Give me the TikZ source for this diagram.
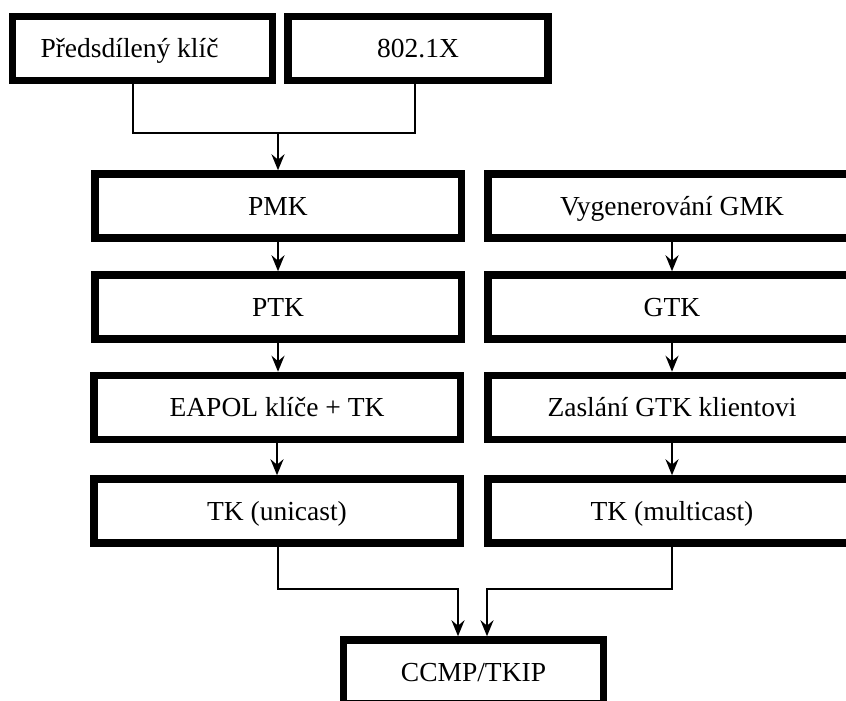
\documentclass[tikz,border=0pt]{standalone}
\usepackage{fontspec}
\setmainfont{Liberation Serif}
\usetikzlibrary{arrows.meta,calc}
\begin{document}
\begin{tikzpicture}[x=1pt,y=-1pt,
  box/.style={draw, line width=7.5pt, inner sep=0pt, minimum height=64pt,
    text height=20pt, text depth=2pt,
    font=\fontsize{27.5}{32}\selectfont},
  wideL/.style={box, minimum width=366.5pt},
  wideR/.style={box, minimum width=368.5pt},
  topbox/.style={box, minimum width=260pt},
  conn/.style={line width=2.5pt},
  arr/.style={conn, -{Stealth[length=16pt,width=13pt,inset=5.5pt]}}]
\useasboundingbox (0,0) rectangle (846,701);
% top row
\node[topbox] (psk) at (142.5,48.5) {\kern-13pt Předsdílený klíč\kern13pt};
\node[topbox] (dot) at (418,48.5) {802.1X};
% left column
\node[wideL] (pmk) at (278,206) {PMK};
\node[wideL] (ptk) at (278,307) {PTK};
\node[wideL] (eapol) at (277,407.5) {EAPOL klíče + TK};
\node[wideL] (tku) at (277,511) {TK (unicast)};
% right column
\node[wideR] (gmk) at (672,206) {Vygenerování GMK};
\node[wideR] (gtk) at (672,307) {GTK};
\node[wideR] (zas) at (672,407.5) {Zaslání GTK klientovi};
\node[wideR] (tkm) at (672,511) {TK (multicast)};
% bottom
\node[topbox] (ccmp) at (473.5,672) {CCMP/TKIP};
% junctions
\coordinate (j1) at (133,133);
\coordinate (j2) at (415,133);
\coordinate (j3) at (278,133);
\coordinate (b1) at (278,589);
\coordinate (b2) at (458,589);
\coordinate (b3) at (672,589);
\coordinate (b4) at (487,589);
% connectors
\draw[conn] (psk.south -| j1) -- (j1) -- (j2) -- (dot.south -| j2);
\draw[arr] (j3) -- (pmk.north -| j3);
\draw[arr] (pmk) -- (ptk);
\draw[arr] (ptk.south) -- (eapol.north -| ptk.south);
\draw[arr] (eapol) -- (tku);
\draw[arr] (gmk) -- (gtk);
\draw[arr] (gtk) -- (zas);
\draw[arr] (zas) -- (tkm);
\draw[arr] (tku.south -| b1) -- (b1) -- (b2) -- (ccmp.north -| b2);
\draw[arr] (tkm.south -| b3) -- (b3) -- (b4) -- (ccmp.north -| b4);
\end{tikzpicture}
\end{document}
